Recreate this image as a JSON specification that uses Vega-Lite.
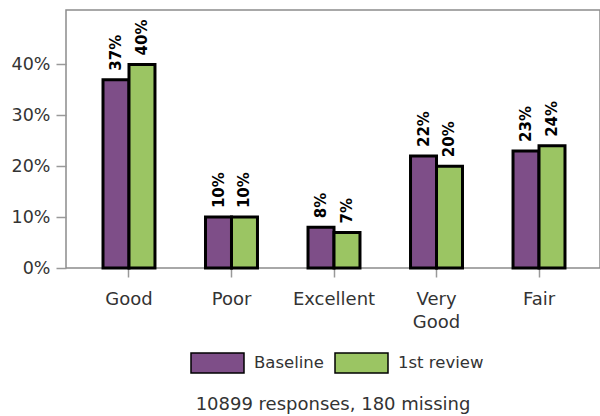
{
  "$schema": "https://vega.github.io/schema/vega-lite/v6.json",
  "width": 534,
  "height": 258,
  "autosize": "none",
  "padding": {"left": 66, "top": 10, "right": 0, "bottom": 148},
  "config": {
    "font": "DejaVu Sans",
    "view": {"stroke": "#8c8c8c", "strokeWidth": 1.5}
  },
  "title": {
    "text": "10899 responses, 180 missing",
    "orient": "bottom",
    "anchor": "middle",
    "fontSize": 18,
    "fontWeight": "normal",
    "color": "#333333",
    "offset": 20
  },
  "data": {
    "values": [
      {"rating": "Good", "phase": "Baseline", "pct": 0.37},
      {"rating": "Good", "phase": "1st review", "pct": 0.40},
      {"rating": "Poor", "phase": "Baseline", "pct": 0.10},
      {"rating": "Poor", "phase": "1st review", "pct": 0.10},
      {"rating": "Excellent", "phase": "Baseline", "pct": 0.08},
      {"rating": "Excellent", "phase": "1st review", "pct": 0.07},
      {"rating": "Very Good", "phase": "Baseline", "pct": 0.22},
      {"rating": "Very Good", "phase": "1st review", "pct": 0.20},
      {"rating": "Fair", "phase": "Baseline", "pct": 0.23},
      {"rating": "Fair", "phase": "1st review", "pct": 0.24}
    ]
  },
  "encoding": {
    "x": {
      "field": "rating",
      "type": "nominal",
      "sort": ["Good", "Poor", "Excellent", "Very Good", "Fair"],
      "scale": {"range": [0, 536], "paddingInner": 0.493, "paddingOuter": 0.361},
      "axis": {
        "title": null,
        "labelAngle": 0,
        "domain": false,
        "tickSize": 9,
        "tickColor": "#999999",
        "tickWidth": 1.5,
        "labelFontSize": 18,
        "labelColor": "#333333",
        "labelPadding": 13,
        "labelLineHeight": 23,
        "labelBaseline": "top",
        "labelExpr": "datum.value == 'Very Good' ? ['Very', 'Good'] : datum.value"
      }
    },
    "xOffset": {"field": "phase", "type": "nominal", "sort": ["Baseline", "1st review"]},
    "y": {
      "field": "pct",
      "type": "quantitative",
      "scale": {"domain": [0, 0.507], "nice": false},
      "axis": {
        "title": null,
        "values": [0, 0.1, 0.2, 0.3, 0.4],
        "format": ".0%",
        "grid": false,
        "domain": false,
        "tickSize": 10,
        "tickColor": "#999999",
        "tickWidth": 1.5,
        "labelFontSize": 17.5,
        "labelColor": "#333333",
        "labelPadding": 6
      }
    }
  },
  "layer": [
    {
      "mark": {"type": "bar", "stroke": "black", "strokeWidth": 3},
      "encoding": {
        "color": {
          "field": "phase",
          "type": "nominal",
          "sort": ["Baseline", "1st review"],
          "scale": {"domain": ["Baseline", "1st review"], "range": ["#7e4e88", "#9bc563"]},
          "legend": {
            "title": null,
            "orient": "none",
            "legendX": 124,
            "legendY": 342,
            "direction": "horizontal",
            "symbolType": "M-1,-1H4.3V1H-1Z",
            "symbolSize": 400,
            "symbolStrokeColor": "black",
            "symbolStrokeWidth": 1.5,
            "symbolOpacity": 1,
            "labelOffset": 42,
            "labelFontSize": 16.5,
            "labelColor": "#333333",
            "columnPadding": 8
          }
        }
      }
    },
    {
      "mark": {"type": "text", "angle": 270, "align": "left", "baseline": "middle", "dx": 9, "fontWeight": "bold", "fontSize": 15, "color": "black"},
      "encoding": {
        "text": {"field": "pct", "type": "quantitative", "format": ".0%"}
      }
    }
  ]
}
